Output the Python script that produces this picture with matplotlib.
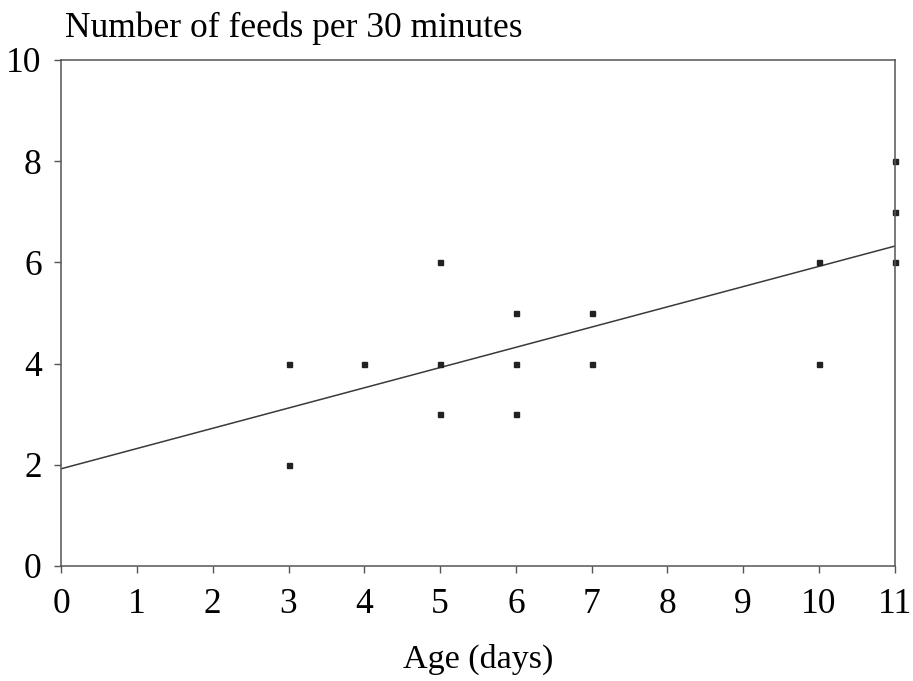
import matplotlib as mpl
import matplotlib.pyplot as plt

mpl.rcParams['font.family'] = ['Liberation Serif', 'DejaVu Serif']

# observations: age (days) vs number of feeds per 30 minutes
age = [3, 3, 4, 5, 5, 5, 6, 6, 6, 7, 7, 10, 10, 11, 11, 11]
feeds = [4, 2, 4, 6, 4, 3, 5, 4, 3, 5, 4, 6, 4, 8, 7, 6]

# fitted line end points
line_x = [0, 11]
line_y = [1.92, 6.32]

fig = plt.figure(figsize=(9.13, 6.81), dpi=100)
ax = fig.add_axes([0.067, 0.169, 0.913, 0.743])

ax.plot(line_x, line_y, color='#3a3a3a', lw=1.1)
ax.plot(age, feeds, 's', color='#222222', ms=3.6, clip_on=False)

ax.set_xlim(0, 11)
ax.set_ylim(0, 10)
ax.set_xticks(range(0, 12))
ax.set_yticks(range(0, 11, 2))
ax.tick_params(direction='out', length=5, width=1, color='#555555',
               labelsize=25.5)
ax.tick_params(axis='x', pad=11)
ax.tick_params(axis='y', pad=9)
for s in ax.spines.values():
    s.set_color('#555555')
    s.set_linewidth(1.1)

ax.set_xlabel('Age (days)', fontsize=24.5, labelpad=16)
ax.text(0.05, 10.3, 'Number of feeds per 30 minutes', fontsize=25.5,
        ha='left', va='bottom')

fig.savefig('out.png', dpi=100)
